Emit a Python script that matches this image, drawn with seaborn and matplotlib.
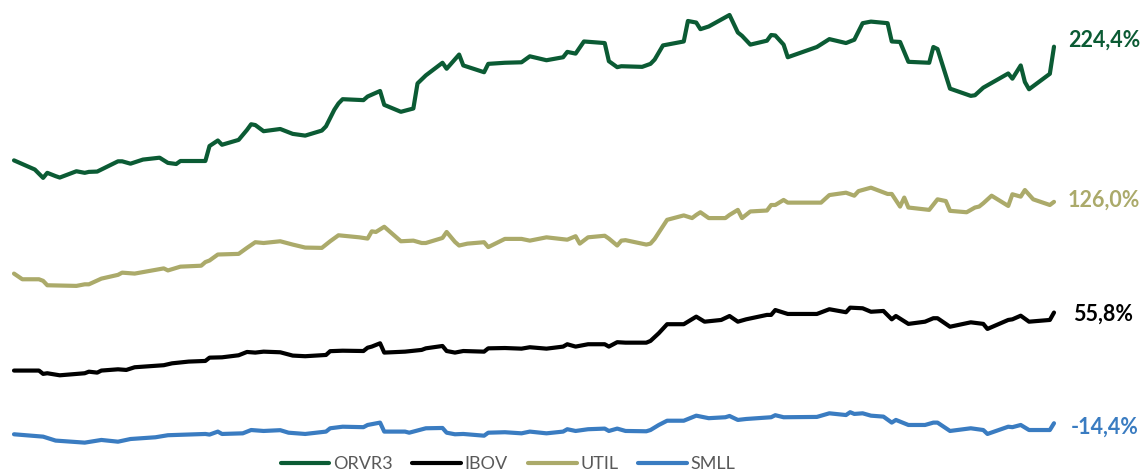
import numpy as np
import pandas as pd
import matplotlib
matplotlib.use("Agg")
import matplotlib.pyplot as plt
from matplotlib.lines import Line2D
import seaborn as sns

# cumulative return (%) by trading day
orvr3_days = [0, 5, 7, 8, 10, 11, 15, 17, 18, 20, 25, 26, 28, 31, 35, 37, 39, 40, 46, 47,
              49, 50, 54, 56, 57, 58, 60, 64, 67, 70, 74, 75, 77, 78, 79, 84, 85, 88, 89, 93,
              96, 97, 99, 103, 104, 107, 108, 113, 114, 118, 122, 124, 128, 132, 133, 135, 137, 142, 143, 145,
              146, 151, 153, 154, 156, 161, 162, 164, 165, 167, 172, 174, 175, 177, 181, 182, 183, 185, 186, 193,
              196, 200, 202, 204, 206, 210, 211, 213, 215, 220, 221, 222, 225, 230, 231, 233, 239, 240, 242, 243,
              244, 249, 250]
orvr3_vals = [152.3, 146.5, 141.2, 144.4, 142.3, 141.4, 145.4, 144.4, 145.0, 145.2,
              151.7, 151.7, 150.2, 152.8, 154.0, 150.7, 150.0, 151.9, 151.9, 161.4,
              164.9, 162.2, 165.3, 171.6, 175.2, 174.7, 170.8, 172.2, 169.1, 168.0,
              171.2, 173.9, 184.4, 188.4, 191.1, 190.5, 192.8, 196.3, 187.5, 183.1,
              185.2, 201.1, 206.2, 214.2, 210.4, 219.4, 212.5, 208.2, 213.5, 214.2,
              214.5, 218.3, 215.8, 217.7, 221.1, 220.0, 227.7, 226.7, 215.2, 211.4,
              212.0, 211.6, 213.5, 216.2, 225.2, 227.7, 240.7, 239.7, 235.5, 237.2,
              244.5, 233.4, 231.3, 225.7, 228.2, 231.8, 231.5, 225.7, 217.7, 224.2,
              229.2, 226.7, 228.8, 239.3, 240.3, 239.3, 227.7, 227.4, 214.8, 214.2,
              224.2, 222.9, 197.8, 193.2, 193.6, 198.4, 207.4, 204.1, 212.5, 202.0,
              197.4, 207.2, 224.4]

util_days = [0, 2, 6, 7, 8, 15, 17, 18, 21, 25, 26, 29, 36, 37, 40, 45, 46, 47, 49, 54,
             56, 58, 60, 64, 67, 70, 74, 76, 78, 83, 85, 86, 87, 89, 93, 96, 98, 99, 103, 104,
             106, 107, 109, 113, 114, 118, 122, 124, 128, 133, 135, 136, 138, 142, 143, 145, 146, 147, 152, 153,
             154, 157, 161, 163, 164, 165, 167, 171, 172, 174, 175, 177, 181, 182, 183, 185, 186, 194, 196, 200,
             202, 203, 206, 210, 211, 213, 214, 215, 220, 222, 224, 225, 229, 231, 232, 233, 235, 239, 240, 242,
             243, 245, 249, 250]
util_vals = [80.5, 76.9, 76.9, 75.9, 73.1, 72.7, 73.7, 73.7, 77.3, 79.7,
             81.1, 80.5, 83.8, 82.5, 84.9, 85.5, 87.8, 88.8, 92.6, 93.0,
             96.8, 100.4, 99.9, 101.0, 98.9, 97.0, 96.8, 101.0, 104.8, 103.5,
             102.7, 107.3, 106.9, 110.2, 101.0, 101.4, 99.9, 99.9, 103.1, 106.9,
             100.6, 98.3, 99.5, 100.4, 97.3, 102.5, 102.5, 101.4, 103.5, 102.0,
             104.2, 99.5, 103.5, 104.5, 102.7, 98.3, 101.4, 101.7, 98.9, 99.5,
             102.5, 114.6, 117.4, 115.7, 117.7, 119.4, 115.7, 115.7, 117.7, 120.9,
             115.7, 119.9, 120.5, 124.0, 124.0, 127.2, 125.5, 125.5, 130.3, 131.8,
             129.9, 132.8, 135.0, 131.0, 131.0, 123.0, 128.7, 122.4, 120.9, 127.6,
             126.5, 120.3, 119.4, 122.4, 123.0, 125.1, 129.9, 123.4, 130.8, 129.3,
             133.5, 127.6, 124.0, 126.0]

ibov_days = [0, 6, 7, 8, 11, 17, 18, 20, 21, 25, 27, 29, 36, 38, 42, 46, 47, 50, 54, 56,
             58, 60, 64, 67, 70, 75, 76, 79, 84, 85, 86, 88, 89, 94, 98, 99, 103, 104, 106, 108,
             113, 114, 118, 122, 124, 128, 132, 133, 135, 138, 142, 143, 145, 147, 152, 153, 155, 157, 161, 164,
             166, 170, 172, 174, 176, 181, 182, 183, 186, 193, 196, 200, 201, 204, 206, 209, 211, 212, 215, 219,
             221, 222, 225, 230, 233, 234, 239, 240, 242, 244, 249, 250]
ibov_vals = [19.0, 19.0, 16.9, 17.3, 16.0, 17.3, 18.3, 17.7, 19.0, 19.8,
             19.4, 21.1, 22.4, 23.6, 24.7, 25.1, 27.2, 27.4, 28.7, 30.8,
             30.4, 31.0, 30.6, 28.5, 28.1, 28.9, 31.3, 31.6, 31.4, 33.5,
             34.2, 36.3, 30.4, 31.0, 32.1, 33.1, 34.6, 31.4, 30.4, 31.4,
             31.0, 33.1, 33.3, 32.9, 33.8, 32.9, 34.2, 35.7, 34.2, 35.7,
             35.7, 34.2, 37.0, 36.7, 36.7, 37.8, 42.7, 48.4, 48.4, 53.2,
             50.0, 51.1, 53.6, 50.0, 51.5, 54.3, 54.3, 57.4, 54.9, 54.9,
             57.9, 56.0, 58.9, 58.5, 56.3, 56.8, 51.5, 53.6, 48.6, 50.0,
             52.2, 52.2, 46.8, 49.6, 48.6, 45.4, 51.1, 51.5, 53.8, 50.0,
             51.1, 55.8]

smll_days = [0, 7, 10, 17, 21, 25, 28, 34, 37, 46, 47, 49, 50, 55, 57, 60, 64, 66, 70, 75,
             76, 79, 84, 85, 86, 88, 89, 94, 95, 99, 103, 104, 106, 108, 113, 114, 118, 122, 124, 128,
             132, 133, 135, 138, 142, 143, 145, 147, 152, 153, 155, 157, 161, 164, 167, 171, 172, 174, 176, 182,
             183, 185, 193, 196, 200, 201, 202, 204, 206, 209, 211, 212, 215, 219, 221, 222, 225, 230, 233, 234,
             239, 240, 242, 244, 249, 250]
smll_vals = [-21.4, -22.9, -25.4, -26.7, -25.0, -26.1, -24.4, -23.3, -22.0, -21.2,
             -21.6, -19.7, -21.2, -20.8, -18.7, -19.3, -18.8, -20.4, -21.2, -19.7,
             -17.6, -16.6, -16.9, -15.5, -15.0, -14.0, -19.7, -19.7, -20.4, -17.6,
             -17.4, -20.4, -21.4, -21.2, -22.3, -20.4, -20.1, -20.8, -19.7, -20.8,
             -19.7, -18.2, -19.3, -18.2, -17.8, -19.3, -17.8, -19.3, -19.5, -18.7,
             -15.5, -12.8, -12.8, -9.6, -11.2, -10.6, -9.8, -12.3, -11.7, -10.6,
             -9.3, -10.6, -10.4, -8.1, -9.2, -7.4, -8.5, -8.1, -9.6, -10.2,
             -14.0, -12.3, -15.5, -15.5, -14.0, -14.0, -19.3, -17.6, -18.7, -21.2,
             -16.6, -16.9, -15.5, -18.7, -18.7, -14.4]

names = ["ORVR3", "IBOV", "UTIL", "SMLL"]
colors = {"ORVR3": "#0B5B34", "IBOV": "#000000", "UTIL": "#ABAA6A", "SMLL": "#3A7CC1"}
label_offsets = {"ORVR3": (10, 5), "UTIL": (10, 1.5), "IBOV": (14, -1.5), "SMLL": (12, -3)}

frames = [
    pd.DataFrame({"day": orvr3_days, "ret": orvr3_vals, "serie": "ORVR3"}),
    pd.DataFrame({"day": ibov_days, "ret": ibov_vals, "serie": "IBOV"}),
    pd.DataFrame({"day": util_days, "ret": util_vals, "serie": "UTIL"}),
    pd.DataFrame({"day": smll_days, "ret": smll_vals, "serie": "SMLL"}),
]
df = pd.concat(frames, ignore_index=True)

sns.set_style("white")
plt.rcParams["font.family"] = ["Lato", "DejaVu Sans"]

fig = plt.figure(figsize=(11.41, 4.72), dpi=100)
ax = fig.add_axes([14 / 1141, 27 / 472, 1040 / 1141, 445 / 472])

sns.lineplot(
    data=df, x="day", y="ret", hue="serie", hue_order=names, palette=colors,
    estimator=None, sort=False, linewidth=3.0, legend=False, ax=ax,
)
for line in ax.get_lines():
    line.set_clip_on(False)
    line.set_solid_joinstyle("round")
    line.set_solid_capstyle("round")

ax.set_xlim(0, 250)
ax.set_ylim(-28.2, 254.0)
ax.set_axis_off()

# end-of-line labels
for name, fr in zip(names, frames):
    last = fr.iloc[-1]
    txt = f"{last['ret']:.1f}%".replace(".", ",")
    dx, dy = label_offsets[name]
    ax.annotate(txt, (last["day"], last["ret"]), xytext=(dx, dy),
                textcoords="offset points", ha="left", va="center",
                fontsize=15.5, fontweight="bold", color=colors[name],
                annotation_clip=False)

handles = [Line2D([0], [0], color=colors[n], lw=3.0) for n in names]
fig.legend(handles, names, loc="center", bbox_to_anchor=(508 / 1141, 8 / 472),
           ncol=4, frameon=False, handlelength=2.7, handletextpad=0.2,
           columnspacing=1.1, prop={"size": 13}, labelcolor="#595959")

fig.savefig("out.png", dpi=100)
